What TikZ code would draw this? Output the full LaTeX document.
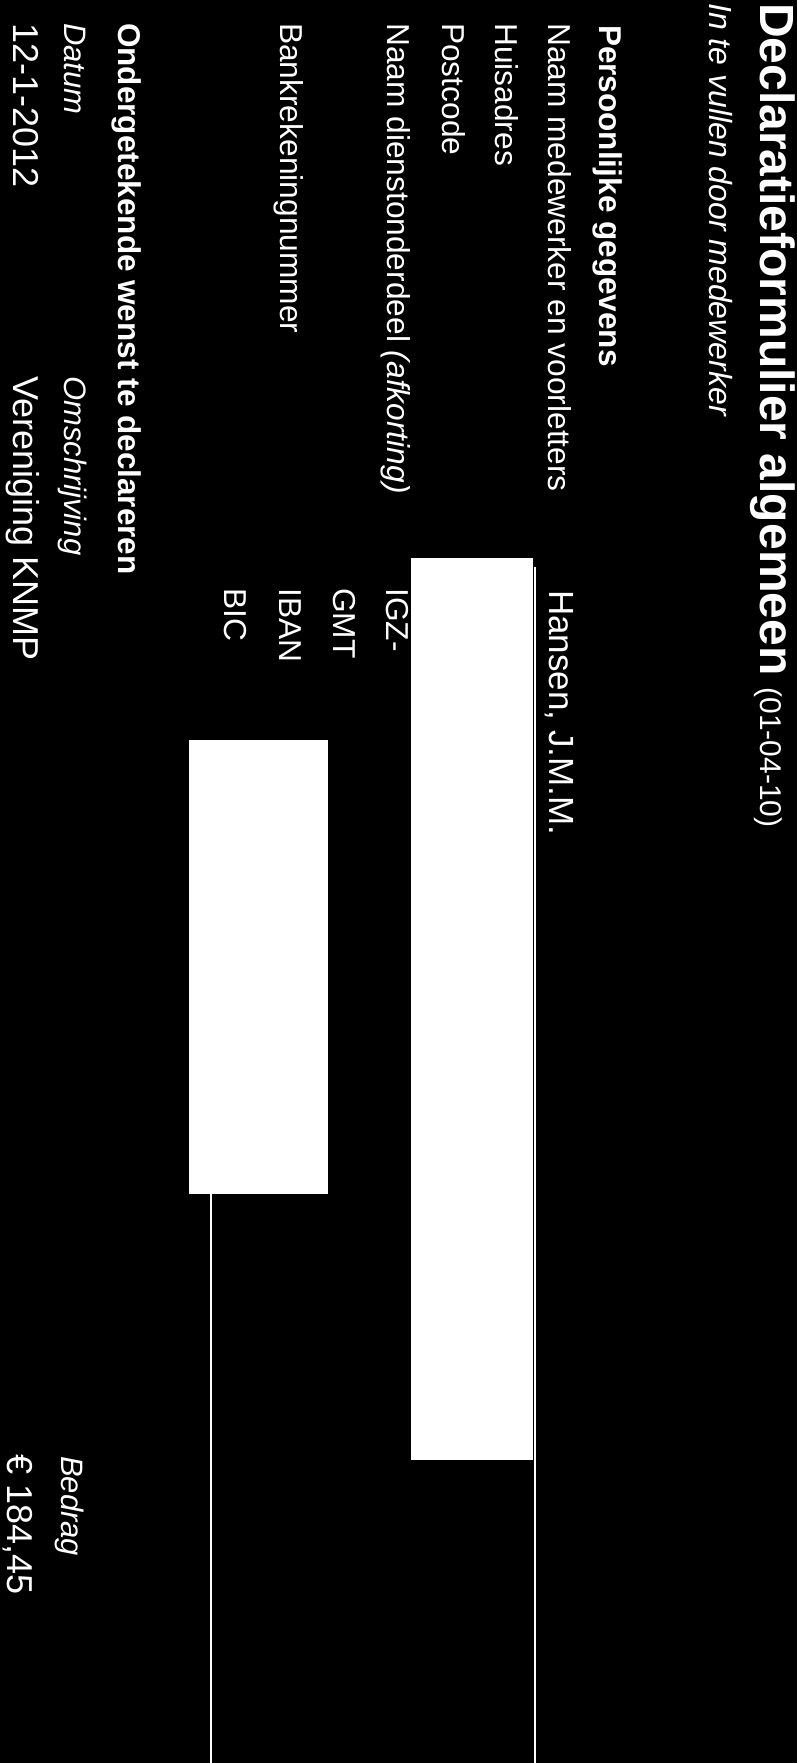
\documentclass[tikz,border=0pt]{standalone}
\usepackage{fontspec}
\setmainfont{Liberation Sans}
\usepackage{tikz}

\newcommand{\fsz}[1]{\fontsize{#1}{#1}\selectfont}

\begin{document}
\begin{tikzpicture}[x=1pt, y=-1pt,
    txt/.style={rotate=-90, anchor=base west, inner sep=0pt, text=white},
    lbl/.style={txt, font=\fsz{31.7}},
    hd/.style={txt, font=\fsz{31.5}\bfseries},
    ital/.style={txt, font=\fsz{31}\itshape},
    val/.style={txt, font=\fsz{36}},
    box/.style={fill=white},
    rule/.style={draw=white, line width=1.5pt}]
    \useasboundingbox (0, 0) rectangle (797, 1763);
    \fill [black]    (0, 0) rectangle (797, 1763);
    % kop
    \node [txt, font=\fsz{48}\bfseries] (titel) at (760, 3)
        {Declaratieformulier algemeen{\fsz{30}\mdseries\hspace{12pt}(01-04-10)}};
    \node [ital, font=\fsz{32}\itshape] (invul) at (709, 3) {In te vullen door medewerker};
    % persoonlijke gegevens
    \node [hd]       (pers)   at (599, 25)  {Persoonlijke gegevens};
    \node [lbl]      (naam)   at (548, 23)  {Naam medewerker en voorletters};
    \node [val, font=\fsz{35}] (hansen) at (549, 590) {Hansen, J.M.M.};
    \node [lbl]      (huis)   at (495, 23)  {Huisadres};
    \node [lbl]      (post)   at (442, 23)  {Postcode};
    \node [lbl]      (dienst) at (387, 23)  {Naam dienstonderdeel \textit{(afkorting)}};
    \node [lbl]      (igz)    at (386, 588) {IGZ-};
    \node [lbl]      (gmt)    at (333, 588) {GMT};
    \node [lbl]      (bank)   at (280, 23)  {Bankrekeningnummer};
    \node [lbl]      (iban)   at (279, 588) {IBAN};
    \node [lbl]      (bic)    at (224, 588) {BIC};
    % invulvakken
    \fill [box]      (411, 558) rectangle (533, 1460);
    \fill [box]      (189, 740) rectangle (328, 1194);
    \draw [rule]     (535, 567) -- (535, 1763);
    \draw [rule]     (211, 1194) -- (211, 1763);
    % declaratie
    \node [hd]       (onder)  at (118, 23)   {Ondergetekende wenst te declareren};
    \node [ital]     (datum)  at (64, 23)    {Datum};
    \node [ital]     (omschr) at (64, 376)   {Omschrijving};
    \node [ital]     (bedrag) at (61, 1456)  {Bedrag};
    \node [val]      (dag)    at (13, 23)    {12-1-2012};
    \node [val]      (ver)    at (13, 376)   {Vereniging KNMP};
    \node [val]      (euro)   at (7, 1454)   {€ 184,45};
\end{tikzpicture}
\end{document}
